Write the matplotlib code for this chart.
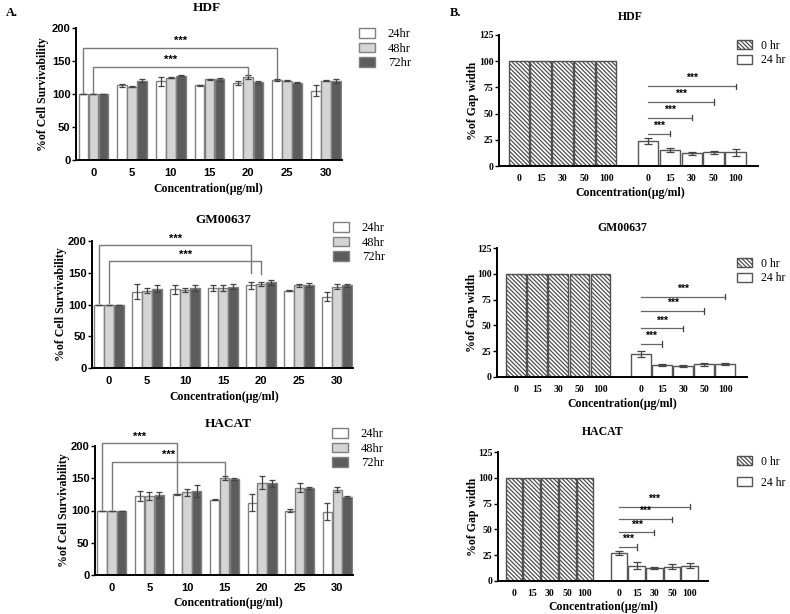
import numpy as np
import matplotlib
matplotlib.use("Agg")
import matplotlib.pyplot as plt

# ---- data: cell survivability (A) ----
conc = ["0", "5", "10", "15", "20", "25", "30"]
hours = ["24hr", "48hr", "72hr"]

hdf_24 = [100, 113, 119, 113, 116, 121, 105]
hdf_24_err = [0, 2, 7, 1, 3, 2, 8]
hdf_48 = [100, 111, 125, 122, 126, 120, 120]
hdf_48_err = [0, 0.5, 0.5, 0.5, 3, 0.5, 1]
hdf_72 = [100, 120, 128, 122, 118, 117, 119]
hdf_72_err = [0, 2, 1, 2, 1, 1, 3]

gm_24 = [100, 120, 124, 126, 130, 122, 112]
gm_24_err = [0, 12, 7, 5, 5, 1, 7]
gm_48 = [100, 122, 123, 126, 132, 130, 128]
gm_48_err = [0, 4, 3, 5, 3, 3, 4]
gm_72 = [100, 125, 126, 128, 135, 131, 130]
gm_72_err = [0, 5, 5, 4, 4, 3, 2]

hacat_24 = [100, 123, 125, 117, 112, 100, 98]
hacat_24_err = [0, 8, 1, 1, 13, 2, 13]
hacat_48 = [100, 123, 128, 150, 143, 135, 132]
hacat_48_err = [0, 6, 5, 3, 10, 7, 4]
hacat_72 = [100, 124, 130, 149, 142, 135, 121]
hacat_72_err = [0, 5, 9, 2, 5, 2, 1]

# brackets: (start group, start series, end group, end series, top y, end y)
hdf_brackets = [(0, 0, 5, 0, 170, 124), (0, 1, 4, 1, 141, 129)]
gm_brackets = [(0, 0, 4, 0, 193, 150), (0, 1, 4, 1, 168, 148)]
hacat_brackets = [(0, 0, 2, 0, 204, 127), (0, 1, 3, 1, 175, 155)]

# ---- data: gap width (B) ----
gap_conc = ["0", "15", "30", "50", "100"]
gap_0hr = [100, 100, 100, 100, 100]

hdf_gap_24 = [24, 15, 12, 13, 13]
hdf_gap_24_err = [3, 2, 1.5, 1.5, 3]
gm_gap_24 = [22, 11.5, 11, 12.5, 13]
gm_gap_24_err = [3, 1, 1, 1.5, 1]
hacat_gap_24 = [27, 15, 13, 14, 15]
hacat_gap_24_err = [2, 3, 1, 2, 2.5]

hdf_gap_sig = [31, 46, 61, 76]
gm_gap_sig = [32, 47, 64, 78]
hacat_gap_sig = [33, 47, 60, 72]

SERIF = "Liberation Serif"
SANS = "Liberation Sans"
W, H = 790, 614

plt.rcParams["hatch.linewidth"] = 0.9
fig = plt.figure(figsize=(7.9, 6.14), dpi=100)


def box(x0, y0, x1, y1):
    return [x0 / W, 1 - y1 / H, (x1 - x0) / W, (y1 - y0) / H]


def ftext(x, y, s, size=9, **kw):
    fig.text(x / W, 1 - y / H, s, fontsize=size, fontfamily=SERIF,
             fontweight="bold", ha="center", va="center", **kw)


def style(ax, sans_ticks):
    for s in ["top", "right"]:
        ax.spines[s].set_visible(False)
    ax.spines["left"].set_linewidth(1.4)
    ax.spines["bottom"].set_linewidth(1.4)
    ax.tick_params(axis="x", length=0, pad=6)
    ax.tick_params(axis="y", length=3, width=1, pad=1)
    fam = SANS if sans_ticks else SERIF
    for lab in ax.get_xticklabels() + ax.get_yticklabels():
        lab.set_fontfamily(fam)
        lab.set_fontweight("bold")
        lab.set_fontsize(8 if sans_ticks else 7)


def legend(ax, xy, size, hl, tp, ls):
    ax.legend(loc="upper left", bbox_to_anchor=(xy[0] / W, 1 - xy[1] / H),
              bbox_transform=fig.transFigure, frameon=False, handlelength=hl,
              handleheight=0.8, labelspacing=ls, handletextpad=tp,
              borderpad=0, borderaxespad=0, prop=dict(family=SERIF, size=size))


fills = ["white", "#d4d4d4", "#5c5c5c"]
off = 0.26
bw = 0.25


def survival(rect, series, errs, brackets, title_xy, leg_xy, xlab_xy, ylab_x, title):
    ax = fig.add_axes(rect)
    x = np.arange(len(conc))
    for i in range(3):
        ax.bar(x + (i - 1) * off, series[i], bw, color=fills[i], edgecolor="#808080",
               linewidth=1, yerr=errs[i], error_kw=dict(ecolor="#444444", elinewidth=0.9,
                                                        capsize=2.5, capthick=0.9),
               label=hours[i])
    for g0, s0, g1, s1, top, end in brackets:
        xa = g0 + (s0 - 1) * off
        xb = g1 + (s1 - 1) * off
        ax.plot([xa, xa, xb, xb], [102, top, top, end], color="#7a7a7a", lw=1,
                clip_on=False)
        ax.text((xa + xb) / 2, top + 3, "***", ha="center", va="bottom",
                fontsize=8, fontweight="bold", fontfamily=SANS)
    ax.set_xlim(-0.45, 6.42)
    ax.set_ylim(0, 200)
    ax.set_yticks([0, 50, 100, 150, 200])
    ax.set_xticks(x)
    ax.set_xticklabels(conc)
    style(ax, True)
    legend(ax, leg_xy, 9, 1.3, 1.0, 0.2)
    ftext(*title_xy, title, size=9.5)
    ftext(*xlab_xy, "Concentration(\u00b5g/ml)", size=8.5)
    ftext(ylab_x, (H - (rect[1] + rect[3] / 2) * H), "%of Cell Survivability",
          size=8.5, rotation=90)
    return ax


def gap(rect, g24, g24_err, sig, title_xy, leg_xy, xlab_xy, ylab_x, title, lspace):
    ax = fig.add_axes(rect)
    x0 = np.arange(len(gap_conc))
    x1 = x0 + 5.92
    ax.bar(x0, gap_0hr, 0.94, color="white", edgecolor="#505050", linewidth=1,
           hatch="\\\\\\\\\\\\\\\\", label="0 hr")
    ax.bar(x1, g24, 0.94, color="white", edgecolor="#555555", linewidth=1,
           yerr=g24_err, error_kw=dict(ecolor="#444444", elinewidth=0.9,
                                       capsize=3, capthick=0.9),
           label="24 hr")
    for k, y in enumerate(sig):
        xa, xb = x1[0], x1[k + 1]
        ax.plot([xa, xb], [y, y], color="#666666", lw=0.9)
        ax.plot([xb, xb], [y - 2.5, y + 2.5], color="#444444", lw=0.9)
        ax.text((xa + xb) / 2, y + 3, "***", ha="center", va="bottom",
                fontsize=7.5, fontweight="bold", fontfamily=SANS)
    ax.set_xlim(-0.91, 10.95)
    ax.set_ylim(0, 125)
    ax.set_yticks([0, 25, 50, 75, 100, 125])
    ax.set_xticks(np.concatenate([x0, x1]))
    ax.set_xticklabels(gap_conc + gap_conc)
    style(ax, False)
    legend(ax, leg_xy, 8.5, 1.3, 0.7, lspace)
    ftext(*title_xy, title, size=8.5)
    ftext(*xlab_xy, "Concentration(\u00b5g/ml)", size=8.5)
    ftext(ylab_x, (H - (rect[1] + rect[3] / 2) * H), "%of Gap width",
          size=8.5, rotation=90)
    return ax


survival(box(76, 28, 342, 160), [hdf_24, hdf_48, hdf_72],
         [hdf_24_err, hdf_48_err, hdf_72_err], hdf_brackets,
         (207, 8), (359, 28), (208, 189), 43, "HDF")
survival(box(92, 241, 353, 368), [gm_24, gm_48, gm_72],
         [gm_24_err, gm_48_err, gm_72_err], gm_brackets,
         (223, 220), (333, 222), (224, 397), 61, "GM00637")
survival(box(95, 446, 353, 575), [hacat_24, hacat_48, hacat_72],
         [hacat_24_err, hacat_48_err, hacat_72_err], hacat_brackets,
         (228, 424), (332, 428), (228, 603), 64, "HACAT")

gap(box(499, 35, 758, 166), hdf_gap_24, hdf_gap_24_err, hdf_gap_sig,
    (630, 17), (737, 40), (630, 193), 473, "HDF", 0.2)
gap(box(497, 248, 747, 377), gm_gap_24, gm_gap_24_err, gm_gap_sig,
    (622, 228), (737, 258), (622, 404), 472, "GM00637", 0.2)
gap(box(498, 452, 708, 581), hacat_gap_24, hacat_gap_24_err, hacat_gap_sig,
    (603, 432), (737, 456), (603, 607), 473, "HACAT", 0.75)

ftext(12, 13, "A.", size=9)
ftext(456, 13, "B.", size=9)

fig.savefig("out.png", dpi=100)
